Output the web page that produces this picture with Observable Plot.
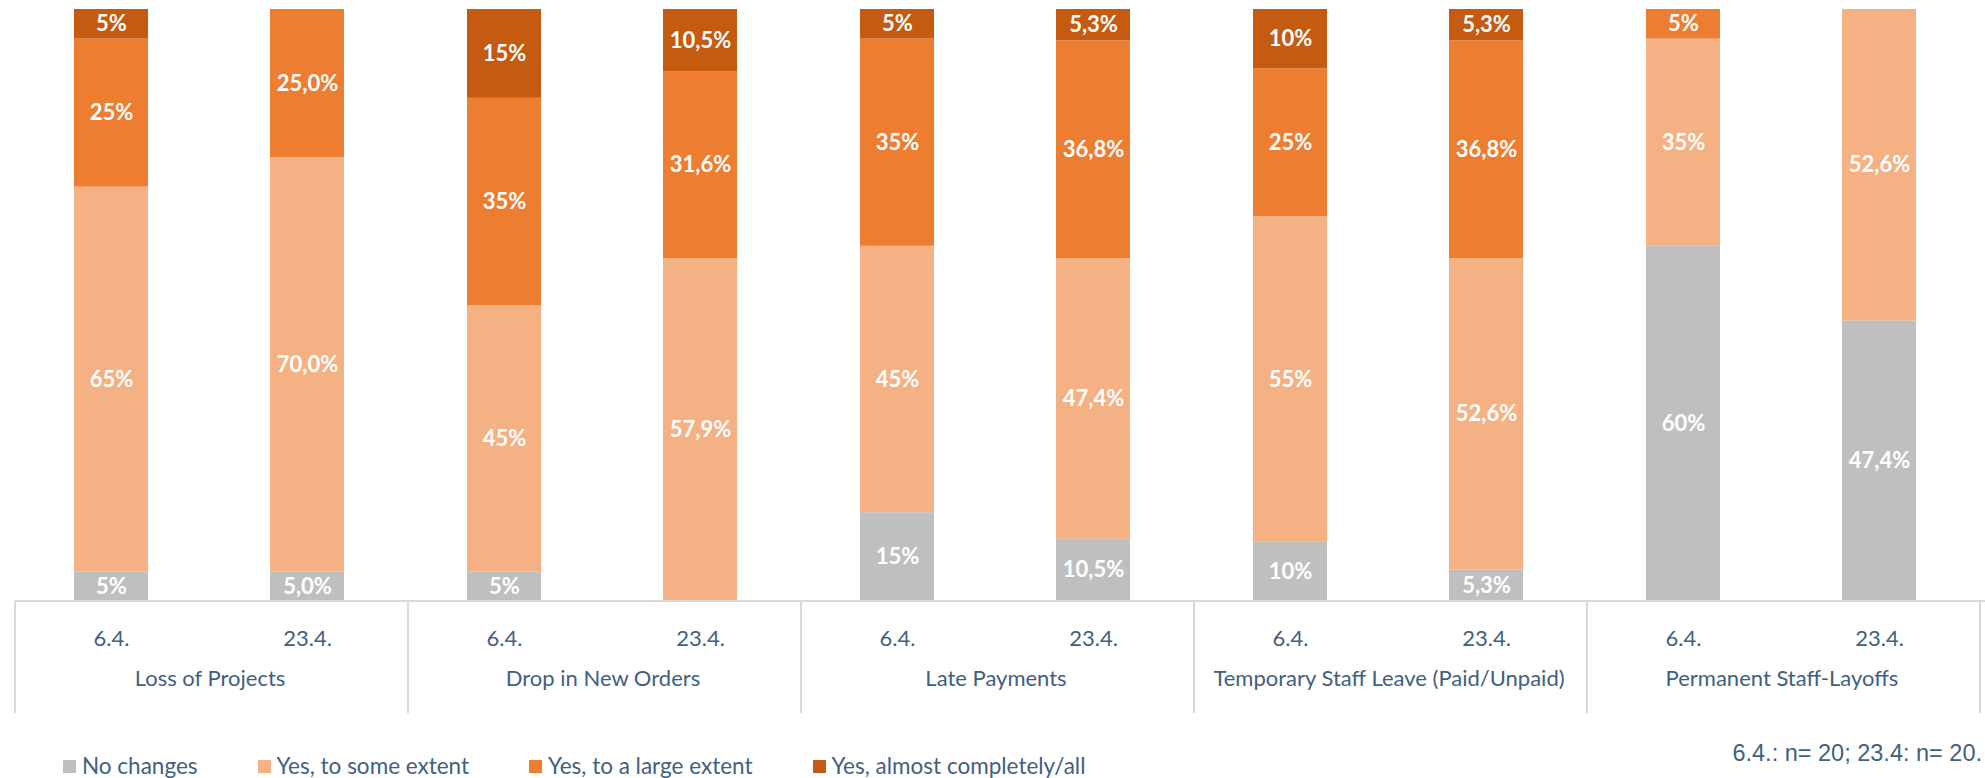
<!DOCTYPE html>
<html>
<head>
<meta charset="utf-8">
<script src="https://cdn.jsdelivr.net/npm/d3@7"></script>
<script src="https://cdn.jsdelivr.net/npm/@observablehq/plot@0.6"></script>
<style>
  body { margin: 0; background: #fff; }
  #wrap { position: relative; width: 1985px; height: 778px; overflow: hidden; font-family: Lato, sans-serif; }
  #legend { position: absolute; left: 63px; top: 754px; display: flex; gap: 60px; font-size: 22.5px; line-height: 24px; color: #41607f; }
  #legend .item { display: flex; align-items: center; }
  #legend .sw { width: 13px; height: 13px; margin-right: 6px; display: inline-block; }
  #note { position: absolute; right: 3px; top: 740px; font-family: "Liberation Sans", Arial, sans-serif; font-size: 23.5px; line-height: 26px; color: #41607f; white-space: nowrap; }
</style>
</head>
<body>
<div id="wrap">
  <div id="chart"></div>
  <div id="legend"></div>
  <div id="note"></div>
</div>
<script>
const categories = ["Loss of Projects", "Drop in New Orders", "Late Payments", "Temporary Staff Leave (Paid/Unpaid)", "Permanent Staff-Layoffs"];
const dates = ["6.4.", "23.4."];
const responses = ["No changes", "Yes, to some extent", "Yes, to a large extent", "Yes, almost completely/all"];
const colors = ["#BFBFBF", "#F4B183", "#ED7D31", "#C55A11"];

// one value per bar, in order: category × date
const noChanges   = [5, 5.0, 5, 0,    15, 10.5, 10, 5.3,  60, 47.4];
const someExtent  = [65, 70.0, 45, 57.9, 45, 47.4, 55, 52.6, 35, 52.6];
const largeExtent = [25, 25.0, 35, 31.6, 35, 36.8, 25, 36.8, 5, 0];
const almostAll   = [5, 0,    15, 10.5, 5, 5.3,   10, 5.3,  0, 0];
const series = [noChanges, someExtent, largeExtent, almostAll];

const noteText = "6.4.: n= 20; 23.4: n= 20.";
const textColor = "#41607f";

const rows = [];
series.forEach((vals, s) => {
  vals.forEach((v, i) => {
    rows.push({
      category: categories[Math.floor(i / 2)],
      date: dates[i % 2],
      response: responses[s],
      value: v
    });
  });
});

const fmt = d => d.date === dates[0]
  ? d3.format("d")(d.value) + "%"
  : d3.format(".1f")(d.value).replace(".", ",") + "%";

function separators(index, scales, values, dimensions) {
  const {marginLeft, marginRight, width} = dimensions;
  const fx = scales.fx;
  const y0 = scales.y(0);
  let edges = [];
  if (fx && fx.bandwidth) {
    categories.forEach(c => { edges.push(fx(c)); });
    edges.push(fx(categories[categories.length - 1]) + fx.bandwidth());
  } else {
    const w = (width - marginLeft - marginRight) / categories.length;
    for (let i = 0; i <= categories.length; i++) edges.push(marginLeft + i * w);
  }
  const g = d3.create("svg:g");
  g.append("line")
    .attr("x1", edges[0]).attr("x2", edges[edges.length - 1])
    .attr("y1", y0).attr("y2", y0)
    .attr("stroke", "#D9D9D9").attr("stroke-width", 2);
  edges.forEach(x => {
    g.append("line")
      .attr("x1", x).attr("x2", x)
      .attr("y1", y0).attr("y2", y0 + 112)
      .attr("stroke", "#D9D9D9").attr("stroke-width", 2);
  });
  return g.node();
}

const chart = Plot.plot({
  width: 1985,
  height: 725,
  marginTop: 9,
  marginBottom: 124,
  marginLeft: 11,
  marginRight: 5,
  style: {fontFamily: "Lato, sans-serif", background: "#fff"},
  fx: {domain: categories, padding: 0, label: null},
  x: {domain: dates, paddingInner: 0.62, paddingOuter: 0.31, label: null},
  y: {domain: [0, 100], axis: null},
  color: {domain: responses, range: colors},
  marks: [
    Plot.barY(rows, Plot.stackY({fx: "category", x: "date", y: "value", z: "response", fill: "response", order: responses})),
    Plot.text(rows, Plot.stackY({
      filter: d => d.value > 0,
      fx: "category", x: "date", y: "value", z: "response", order: responses,
      text: fmt, fill: "white", fontWeight: "bold", fontSize: 22
    })),
    separators,
    Plot.axisX({tickSize: 0, tickPadding: 29, fontSize: 22, color: textColor, label: null}),
    Plot.axisFx({anchor: "bottom", tickSize: 0, tickPadding: 69, fontSize: 22, color: textColor, label: null})
  ]
});
document.getElementById("chart").appendChild(chart);

const legend = d3.select("#legend");
responses.forEach((r, i) => {
  const it = legend.append("div").attr("class", "item");
  it.append("span").attr("class", "sw").style("background", colors[i]);
  it.append("span").text(r);
});
document.getElementById("note").textContent = noteText;
</script>
</body>
</html>
